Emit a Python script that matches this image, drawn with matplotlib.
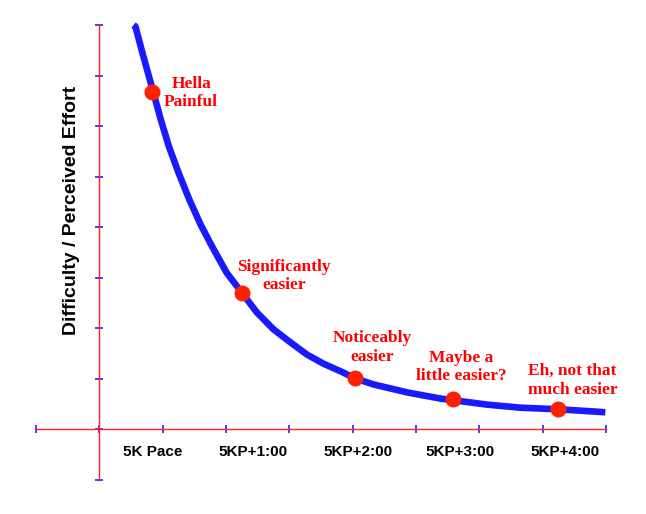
import matplotlib
matplotlib.use("Agg")
from matplotlib import pyplot as plt

# curve (x in pace steps, y in effort units)
curve_x = [0.54, 0.57, 0.68, 0.85, 0.97, 1.10, 1.25, 1.42, 1.60, 1.78, 2.01,
           2.26, 2.49, 2.75, 3.02, 3.28, 3.54, 3.81, 4.04, 4.33, 4.87, 5.39,
           6.13, 6.65, 7.24, 7.99]
curve_y = [8.00, 7.97, 7.45, 6.68, 6.13, 5.59, 5.08, 4.55, 4.05, 3.62, 3.10,
           2.69, 2.31, 1.98, 1.72, 1.48, 1.30, 1.15, 1.01, 0.89, 0.73, 0.61,
           0.49, 0.43, 0.40, 0.34]

# highlighted points
point_x = [0.83, 2.26, 4.04, 5.58, 7.24]
point_y = [6.68, 2.69, 1.01, 0.61, 0.40]
point_labels = ["Hella\nPainful", "Significantly\neasier", "Noticeably\neasier",
                "Maybe a\nlittle easier?", "Eh, not that\nmuch easier"]
label_pos = [(1.45, 6.66), (2.92, 3.04), (4.31, 1.62), (5.72, 1.23), (7.47, 0.97)]

pace_labels = ["5K Pace", "5KP+1:00", "5KP+2:00", "5KP+3:00", "5KP+4:00"]
pace_x = [0.85, 2.42, 4.08, 5.70, 7.36]

fig = plt.figure(figsize=(6.46, 5.14), dpi=100)
ax = fig.add_axes([36 / 646, 34 / 514, 570 / 646, 455 / 514])
ax.set_xlim(-1, 8)
ax.set_ylim(-1, 8)

for side in ['top', 'right']:
    ax.spines[side].set_visible(False)
ax.spines['left'].set_position(('data', 0))
ax.spines['bottom'].set_position(('data', 0))
for side in ['left', 'bottom']:
    ax.spines[side].set_color('#ff2020')
    ax.spines[side].set_linewidth(1.0)

ax.set_xticks(range(-1, 9))
ax.set_yticks(range(-1, 9))
ax.tick_params(direction='inout', length=6, width=1.2, color='#2020ff',
               labelbottom=False, labelleft=False)

ax.plot(curve_x, curve_y, color='#1a1aff', linewidth=4.8, solid_capstyle='butt',
        solid_joinstyle='round', clip_on=False, zorder=3)
ax.plot(point_x, point_y, 'o', color='#ff2000', markersize=10.5, zorder=4)

for text, (tx, ty) in zip(point_labels, label_pos):
    ax.text(tx, ty, text, color='#ff0000', fontsize=12.5, fontweight='bold',
            family='Liberation Serif', ha='center', va='center', linespacing=1.2)

for text, px in zip(pace_labels, pace_x):
    ax.text(px, -0.45, text, fontsize=11, fontweight='bold',
            family='Liberation Sans', ha='center', va='center')

fig.text(72 / 646, 1 - 210 / 514, "Difficulty / Perceived Effort", rotation=90,
         fontsize=14, fontweight='bold', family='Liberation Sans',
         ha='center', va='center')

fig.savefig("out.png", dpi=100)
